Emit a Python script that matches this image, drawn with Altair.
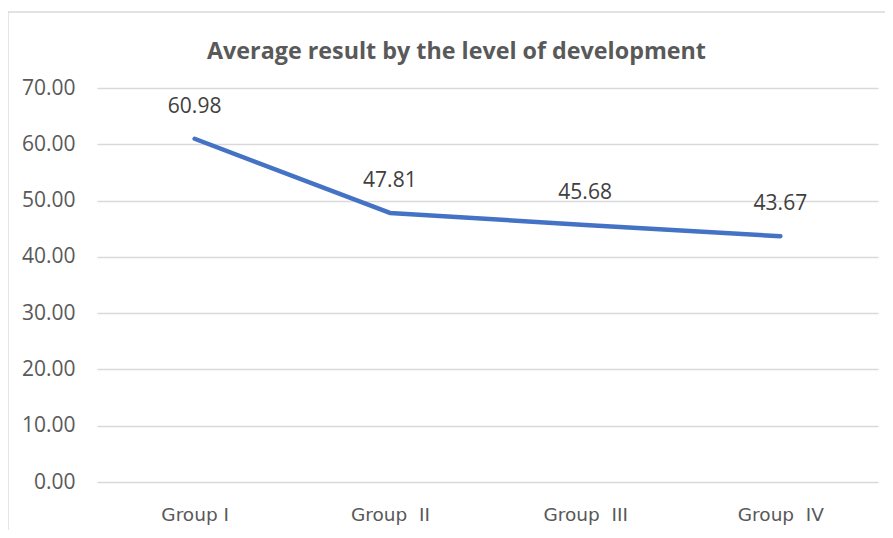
import altair as alt
import pandas as pd

groups = ["Group I", "Group\u00a0 II", "Group\u00a0 III", "Group\u00a0 IV"]
values = [60.98, 47.81, 45.68, 43.67]
labels = ["60.98", "47.81", "45.68", "43.67"]

df = pd.DataFrame({"group": groups, "value": values, "label": labels})

FONT = "Open Sans"

x_enc = alt.X("group:N", sort=groups, title=None,
              scale=alt.Scale(paddingInner=0, paddingOuter=0.5),
              axis=alt.Axis(labelAngle=0, domain=False, ticks=False, grid=False,
                            labelFont="DejaVu Sans", labelFontSize=18.5,
                            labelColor="#595959", labelPadding=23))
y_enc = alt.Y("value:Q", title=None,
              scale=alt.Scale(domain=[0, 70], nice=False, zero=True),
              axis=alt.Axis(values=[0, 10, 20, 30, 40, 50, 60, 70], format=".2f",
                            domain=False, ticks=False, grid=True,
                            gridColor="#d9d9d9", gridWidth=1.3,
                            labelFont=FONT, labelFontSize=21,
                            labelColor="#595959", labelPadding=22))

border = alt.Chart(df).mark_rect(fill=None, stroke="#d9d9d9", strokeWidth=1.3).encode(
    x=alt.value(-89), x2=alt.value(808), y=alt.value(-76), y2=alt.value(470)
).transform_filter(alt.datum.group == "Group I")

line = alt.Chart(df).mark_line(color="#4472C4", strokeWidth=4.5, strokeCap="round",
                               strokeJoin="round").encode(x=x_enc, y=y_enc)

text = alt.Chart(df).mark_text(font=FONT, fontSize=21, color="#404040", dy=-32).encode(
    x=alt.X("group:N", sort=groups), y="value:Q", text="label:N")

chart = alt.layer(border, line, text).properties(
    width=781, height=394,
    autosize=alt.AutoSizeParams(type="none"),
    padding={"left": 89, "top": 80, "right": 7, "bottom": 48},
    title=alt.TitleParams("Average result by the level of development",
                          font=FONT, fontSize=23.3, fontWeight="bold",
                          color="#595959", anchor="middle", offset=-53, dx=-31),
).configure_view(stroke=None)

chart.save("out.html", embed_options={"renderer": "svg", "actions": False})
